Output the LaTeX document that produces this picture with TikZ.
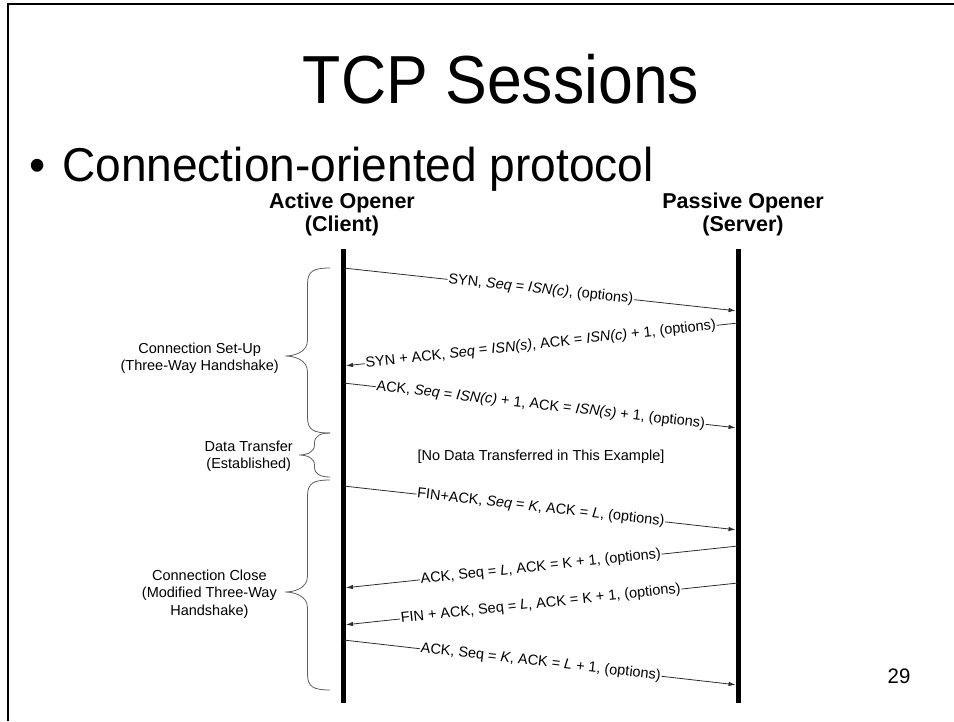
\documentclass[tikz,border=0pt]{standalone}
\usepackage{fontspec}
\setmainfont{Liberation Sans}
\newfontfamily\titlefont[FakeStretch=0.92]{Liberation Sans}
\newfontfamily\slidefont[FakeStretch=0.97]{Liberation Sans}
\usetikzlibrary{arrows.meta}
\definecolor{braceGray}{RGB}{95,95,95}
\definecolor{msgGray}{RGB}{45,45,45}

\begin{document}
\begin{tikzpicture}[x=1pt, y=-1pt,
  msg/.style={draw=msgGray, line width=0.8pt, shorten >=2.5pt, -{Latex[length=7pt,width=4.5pt]}},
  msglabel/.style={font=\fontsize{14.5}{16}\selectfont, sloped, fill=white, inner sep=0.8pt},
  lifeline/.style={line width=5pt},
  sidebrace/.style={draw=braceGray, line width=0.8pt},
  sidelabel/.style={font=\fontsize{14.5}{17.5}\selectfont, align=center, inner sep=0pt, anchor=east},
  header/.style={font=\bfseries\fontsize{21.5}{23}\selectfont, align=center, inner sep=0pt}]
\useasboundingbox (0,0) rectangle (954,721);

% slide frame and texts
\draw[line width=2.5pt] (8,721) -- (8,4) -- (954,4);
\node[font=\titlefont\fontsize{68}{76}\selectfont, anchor=base, inner sep=0pt] (title) at (501,103) {TCP Sessions};
\node[font=\slidefont\fontsize{47.5}{54}\selectfont, anchor=base, inner sep=0pt] (dot) at (38,181) {\textbullet};
\node[font=\slidefont\fontsize{47.5}{54}\selectfont, anchor=base west, inner sep=0pt] (point) at (62,181) {Connection-oriented protocol};
\node[font=\slidefont\fontsize{21}{24}\selectfont] (pagenum) at (899,676) {29};

% the two ends
\node[header] (client) at (342,214) {Active Opener\\(Client)};
\node[header] (server) at (743,214) {Passive Opener\\(Server)};
\coordinate (ctop) at (343.5,249);
\coordinate (cbot) at (343.5,703);
\coordinate (stop) at (738,249);
\coordinate (sbot) at (738,703);
\draw[lifeline] (ctop) -- (cbot);
\draw[lifeline] (stop) -- (sbot);

% points on the lifelines
\foreach \n/\yc/\ys in {1/268/311, 2/366/323, 3/383/428, 4/486/530, 5/588/546, 6/625/583, 7/640/685} {
    \coordinate (c\n) at (343.5,\yc);
    \coordinate (s\n) at (738,\ys);
}

% segments
\foreach \src/\dst/\txt in {
    c1/s1/{SYN, \textit{Seq} = \textit{ISN(c)}, (options)},
    s2/c2/{SYN + ACK, \textit{Seq} = \textit{ISN(s)}, ACK = \textit{ISN(c)} + 1, (options)},
    c3/s3/{ACK, \textit{Seq} = \textit{ISN(c)} + 1, ACK = \textit{ISN(s)} + 1, (options)},
    c4/s4/{FIN+ACK, \textit{Seq} = \textit{K}, ACK = \textit{L}, (options)},
    s5/c5/{ACK, Seq = \textit{L}, ACK = K + 1, (options)},
    s6/c6/{FIN + ACK, Seq = \textit{L}, ACK = K + 1, (options)},
    c7/s7/{ACK, Seq = \textit{K}, ACK = \textit{L} + 1, (options)}
} {
    \draw[msg] (\src) -- node[msglabel] {\txt} (\dst);
}
\node[font=\fontsize{14.5}{16}\selectfont] (nodata) at (541,457) {[No Data Transferred in This Example]};

% braces on the left
\foreach \ytop/\ymid/\ybot/\tipx/\rad in {268/356/433/285/16, 433/455/477/299/10, 480/592/690/285/16} {
    \pgfmathsetmacro\xv{(330+\tipx)/2}
    \draw[sidebrace] (330,\ytop) .. controls (\xv+6,\ytop) and (\xv,\ytop+3) .. (\xv,\ytop+\rad)
        -- (\xv,\ymid-\rad) .. controls (\xv,\ymid-3) and (\tipx+8,\ymid) .. (\tipx,\ymid)
        .. controls (\tipx+8,\ymid) and (\xv,\ymid+3) .. (\xv,\ymid+\rad)
        -- (\xv,\ybot-\rad) .. controls (\xv,\ybot-3) and (\xv+6,\ybot) .. (330,\ybot);
}
\node[sidelabel] (setup) at (279,358) {Connection Set-Up\\(Three-Way Handshake)};
\node[sidelabel] (data) at (293,456) {Data Transfer\\(Established)};
\node[sidelabel] (close) at (277,594) {Connection Close\\(Modified Three-Way\\Handshake)};
\end{tikzpicture}
\end{document}
